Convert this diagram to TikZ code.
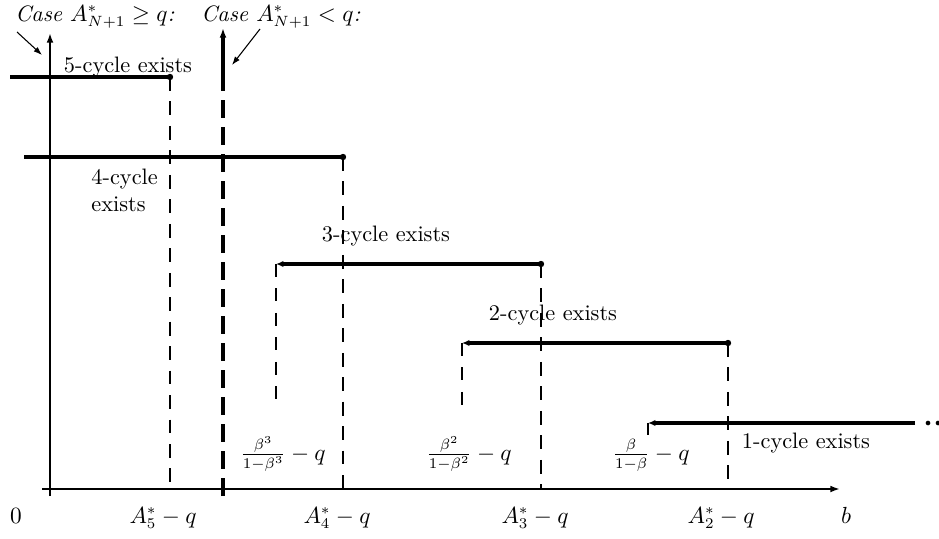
\documentclass[tikz,border=0pt]{standalone}
\usepackage{amsmath,amssymb}
\usepackage{tikz}
\usetikzlibrary{arrows.meta}
\tikzset{
  every picture/.style = {line join=miter, line cap=butt},
  every node/.style = {font=\fontsize{10.5pt}{12.6pt}\selectfont},
  axis/.style = {-{Latex[length=4.5pt,width=3.2pt]}, line width=0.9pt},
  cycle bar/.style = {line width=2.1pt},
  cycle bar open/.style = {cycle bar, -{Latex[length=3.5pt,width=3pt]}},
  bar end/.style = {circle, fill=black, inner sep=0pt, minimum size=3pt},
  more dot/.style = {circle, fill=black, inner sep=0pt, minimum size=2.2pt},
  drop/.style = {line width=1pt, dash pattern=on 6.5pt off 5pt},
  drop thin/.style = {line width=0.65pt, dash pattern=on 6pt off 5.5pt},
  drop case/.style = {line width=1.6pt, dash pattern=on 8.5pt off 4.2pt},
  case arrow/.style = {-{Latex[length=4pt,width=2.8pt]}, line width=0.5pt},
  tick label/.style = {anchor=base, inner sep=0pt},
  bar label/.style = {inner sep=0pt},
  case label/.style = {anchor=base west, inner sep=0pt,
    font=\fontsize{10.5pt}{12.6pt}\selectfont\itshape},
}

\begin{document}
\begin{tikzpicture}[x=0.47pt,y=0.47pt]
  \useasboundingbox (0,0) rectangle (939,538);

  % axes
  \coordinate (o) at (50,49);
  \coordinate (xa) at (42,49);
  \coordinate (xb) at (840,49);
  \coordinate (ya) at (50,42);
  \coordinate (yb) at (50,505);
  \draw[axis] (xa) -- (xb);
  \draw[axis] (ya) -- (yb);

  % second vertical (case A_{N+1} < q)
  \coordinate (ca) at (223,42);
  \coordinate (cm) at (223,463);
  \coordinate (cb) at (223,510);
  \draw[drop case] (ca) -- (cm);
  \draw[axis, line width=1.6pt] (cm) -- (cb);

  % cycle bars
  \coordinate (b5l) at (10,461);  \coordinate (b5r) at (170,461);
  \coordinate (b4l) at (24,381);  \coordinate (b4r) at (343,381);
  \coordinate (b3l) at (276,274); \coordinate (b3r) at (541,274);
  \coordinate (b2l) at (462,195); \coordinate (b2r) at (728,195);
  \coordinate (b1l) at (648,115); \coordinate (b1r) at (915,115);

  \draw[cycle bar] (b5l) -- (b5r);
  \draw[cycle bar] (b4l) -- (b4r);
  \draw[cycle bar open] (b3r) -- (b3l);
  \draw[cycle bar open] (b2r) -- (b2l);
  \draw[cycle bar open] (b1r) -- (b1l);

  \foreach \b in {b5r,b4r,b3r,b2r} {
    \node[bar end] (\b dot) at (\b) {};
    \draw[drop] (\b) -- (\b |- o);
  }

  % open ends
  \coordinate (b3d) at (276,129);
  \coordinate (b2d) at (462,129);
  \coordinate (b1d) at (648,103);
  \draw[drop thin] (b3l) -- (b3d);
  \draw[drop thin] (b2l) -- (b2d);
  \draw[line width=0.9pt] (b1l) -- (b1d);
  \node[more dot] (m1) at (928,115) {};
  \node[more dot] (m2) at (938,115) {};

  % bar labels
  \node[bar label] (l5) at (128,471) {5-cycle exists};
  \node[bar label, align=left, anchor=west] (l4) at (91,348) {4-cycle\\exists};
  \node[bar label] (l3) at (386,302) {3-cycle exists};
  \node[bar label] (l2) at (553,223) {2-cycle exists};
  \node[bar label] (l1) at (806,95) {1-cycle exists};

  % lower bounds
  \node[tick label] (f3) at (283,78) {$\frac{\beta^3}{1-\beta^3}-q$};
  \node[tick label] (f2) at (469,78) {$\frac{\beta^2}{1-\beta^2}-q$};
  \node[tick label] (f1) at (651,78) {$\frac{\beta}{1-\beta}-q$};

  % axis labels
  \node[tick label] (t0) at (16,15) {$0$};
  \node[tick label] (t5) at (163,15) {$A^*_5-q$};
  \node[tick label] (t4) at (337,15) {$A^*_4-q$};
  \node[tick label] (t3) at (535,15) {$A^*_3-q$};
  \node[tick label] (t2) at (721,15) {$A^*_2-q$};
  \node[tick label] (tb) at (846,15) {$b$};

  % cases
  \node[case label] (c1) at (15,517) {Case $A^*_{N+1}\geq q$:};
  \node[case label] (c2) at (201,517) {Case $A^*_{N+1}< q$:};
  \coordinate (c1a) at (17,506);  \coordinate (c1b) at (42,483);
  \coordinate (c2a) at (260,509); \coordinate (c2b) at (232,473);
  \draw[case arrow] (c1a) -- (c1b);
  \draw[case arrow] (c2a) -- (c2b);
\end{tikzpicture}
\end{document}
